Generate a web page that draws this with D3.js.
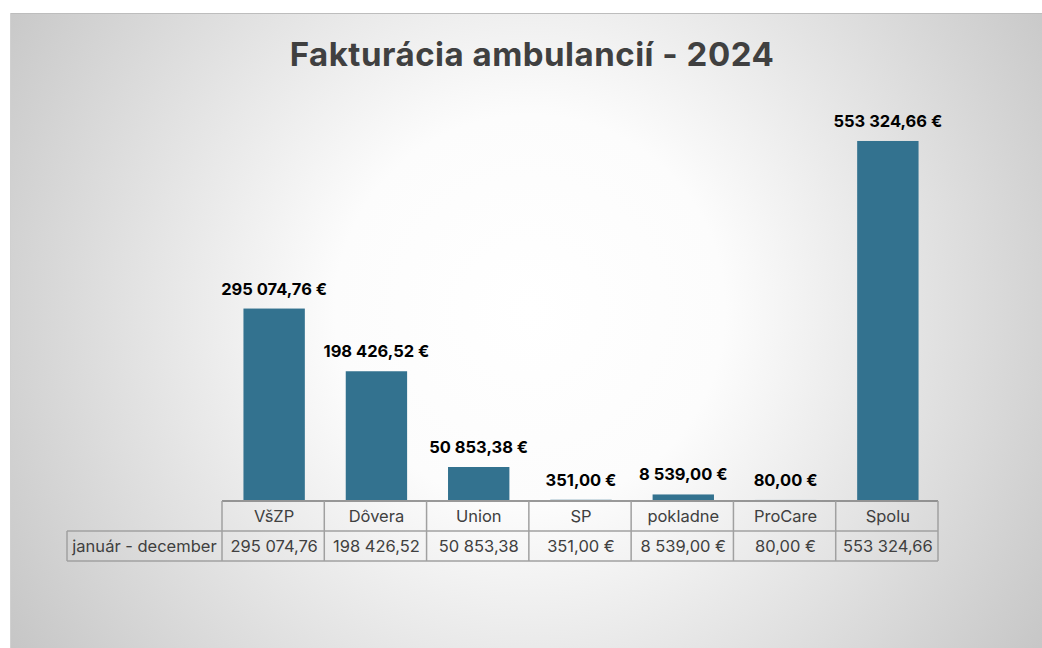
<!DOCTYPE html>
<html>
<head>
<meta charset="utf-8">
<script src="https://cdn.jsdelivr.net/npm/d3@7"></script>
<style>
  body { margin: 0; background: #fff; }
  svg { display: block; }
</style>
</head>
<body>
<svg id="chart" width="1042" height="648"></svg>
<script>
const categories = ["VšZP", "Dôvera", "Union", "SP", "pokladne", "ProCare", "Spolu"]
const values = [295074.76, 198426.52, 50853.38, 351.00, 8539.00, 80.00, 553324.66]
const barLabels = ["295 074,76 €", "198 426,52 €", "50 853,38 €", "351,00 €", "8 539,00 €", "80,00 €", "553 324,66 €"]
const tableLabels = ["295 074,76", "198 426,52", "50 853,38", "351,00 €", "8 539,00 €", "80,00 €", "553 324,66"]
const rowName = "január - december"
const title = "Fakturácia ambulancií - 2024"

const width = 1042,
    height = 648
const plot = { left: 222, right: 938, bottom: 500 }
const barColor = "rgb(51,114,143)"
const textGray = "rgb(64,64,64)"
const gridGray = "rgb(160,160,160)"
const font = "Inter, 'Noto Sans', sans-serif"

const svg = d3.select('#chart')

// background with radial gradient
const defs = svg.append('defs')
const grad = defs.append('radialGradient')
    .attr('id', 'bg')
    .attr('gradientUnits', 'userSpaceOnUse')
    .attr('cx', 530).attr('cy', 310).attr('r', 650)
grad.append('stop').attr('offset', 0).attr('stop-color', '#ffffff')
grad.append('stop').attr('offset', 0.3).attr('stop-color', '#fcfcfc')
grad.append('stop').attr('offset', 1).attr('stop-color', '#c2c2c2')

svg.append('rect')
    .attr('x', 10).attr('y', 13)
    .attr('width', width - 10).attr('height', height - 13)
    .attr('fill', 'url(#bg)')
svg.append('line')
    .attr('x1', 10).attr('x2', width)
    .attr('y1', 13.5).attr('y2', 13.5)
    .attr('stroke', '#bdbdbd')
svg.append('line')
    .attr('x1', 10.5).attr('x2', 10.5)
    .attr('y1', 13).attr('y2', height)
    .attr('stroke', '#d0d0d0')

// title
svg.append('text')
    .attr('x', 532)
    .attr('y', 66)
    .attr('text-anchor', 'middle')
    .style('font-family', font)
    .style('font-size', '33px')
    .style('font-weight', 'bold')
    .style('letter-spacing', '0.5px')
    .style('fill', textGray)
    .text(title)

const x = d3.scaleBand()
    .domain(categories)
    .range([plot.left, plot.right])
    .paddingInner(0.4)
    .paddingOuter(0.2)

const step = (plot.right - plot.left) / categories.length

const y = d3.scaleLinear()
    .domain([0, 600000])
    .range([plot.bottom, plot.bottom - 389.3])

// bars
svg.append('g')
    .selectAll('rect')
    .data(values)
    .enter()
    .append('rect')
    .attr('x', (d, i) => x(categories[i]) + 1)
    .attr('width', x.bandwidth())
    .attr('y', d => y(d))
    .attr('height', d => y(0) - y(d))
    .attr('fill', barColor)

// data labels
svg.append('g')
    .selectAll('text')
    .data(values)
    .enter()
    .append('text')
    .attr('x', (d, i) => x(categories[i]) + x.bandwidth() / 2 + 1)
    .attr('y', d => y(d) - 14)
    .attr('text-anchor', 'middle')
    .style('font-family', font)
    .style('font-size', '16.5px')
    .style('font-weight', 'bold')
    .style('fill', '#000')
    .text((d, i) => barLabels[i])

// data table
const rowTop = plot.bottom + 1,
    rowH = 30,
    labelLeft = 67
const table = svg.append('g')
    .attr('stroke', gridGray)
    .attr('stroke-width', 1.5)
    .attr('fill', 'none')

table.append('line').attr('x1', plot.left).attr('x2', plot.right).attr('y1', rowTop).attr('y2', rowTop)
    .attr('stroke', 'rgb(120,120,120)')
table.append('line').attr('x1', labelLeft).attr('x2', plot.right).attr('y1', rowTop + rowH).attr('y2', rowTop + rowH)
table.append('line').attr('x1', labelLeft).attr('x2', plot.right).attr('y1', rowTop + 2 * rowH).attr('y2', rowTop + 2 * rowH)
table.append('line').attr('x1', labelLeft).attr('x2', labelLeft).attr('y1', rowTop + rowH).attr('y2', rowTop + 2 * rowH)
table.selectAll('line.v')
    .data(d3.range(categories.length + 1))
    .enter()
    .append('line')
    .attr('class', 'v')
    .attr('x1', i => plot.left + i * step)
    .attr('x2', i => plot.left + i * step)
    .attr('y1', rowTop)
    .attr('y2', rowTop + 2 * rowH)

const cellText = svg.append('g')
    .style('font-family', font)
    .style('font-size', '16.5px')
    .style('fill', textGray)
    .attr('text-anchor', 'middle')

cellText.selectAll('text.cat')
    .data(categories)
    .enter()
    .append('text')
    .attr('class', 'cat')
    .attr('x', d => x(d) + x.bandwidth() / 2 + 1)
    .attr('y', rowTop + rowH / 2 + 6)
    .text(d => d)

cellText.selectAll('text.val')
    .data(tableLabels)
    .enter()
    .append('text')
    .attr('class', 'val')
    .attr('x', (d, i) => x(categories[i]) + x.bandwidth() / 2 + 1)
    .attr('y', rowTop + rowH * 1.5 + 6)
    .text(d => d)

cellText.append('text')
    .attr('x', (labelLeft + plot.left) / 2)
    .attr('y', rowTop + rowH * 1.5 + 6)
    .text(rowName)
</script>
</body>
</html>
